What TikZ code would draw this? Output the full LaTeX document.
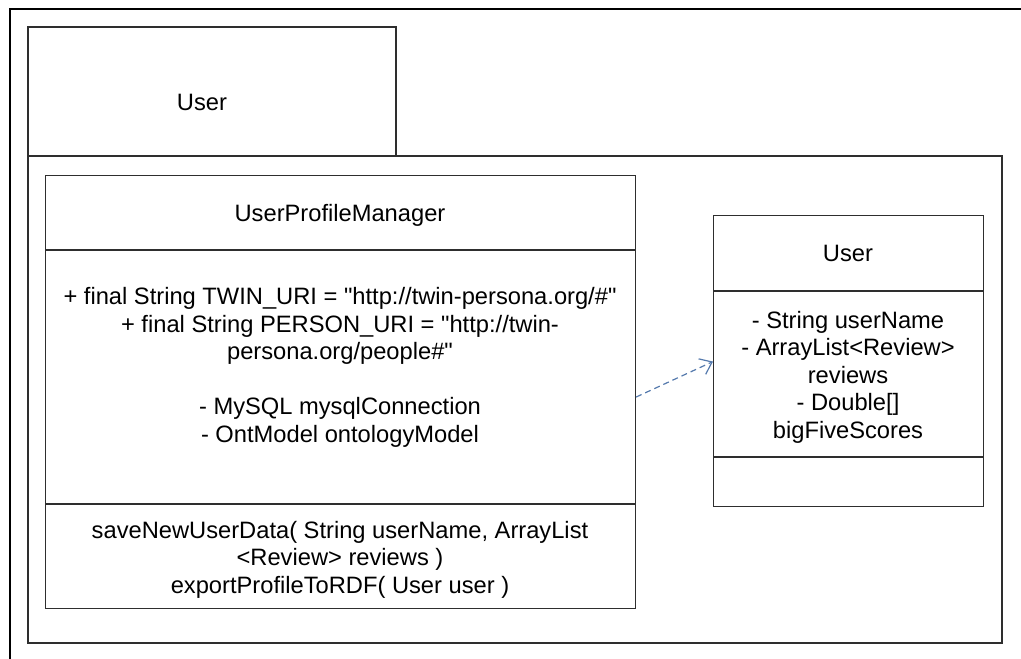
\documentclass[tikz,border=0pt]{standalone}
\usepackage{fontspec}
\setmainfont{Liberation Sans}
\usetikzlibrary{arrows.meta}
\definecolor{edge}{HTML}{2E2E2E}
\definecolor{dep}{HTML}{557AAD}
\newcommand{\dq}{\textquotedbl}
\tikzset{
  frame/.style={draw=edge, line width=1.3pt},
  box/.style={draw=edge, line width=1.1pt},
  txt/.style={inner sep=0pt, align=center, font=\fontsize{23.7}{27.5}\selectfont},
  depend/.style={draw=dep, line width=1.2pt, dash pattern=on 6pt off 4pt,
    -{Straight Barb[length=11pt, width=17pt, line width=1.2pt]}}
}
\begin{document}
\begin{tikzpicture}[x=1pt, y=-1pt]
  \useasboundingbox (0,0) rectangle (1021,659);
  % page frame, open to the right and bottom
  \draw[line width=1.6pt, draw=black] (10,659) -- (10,9) -- (1021,9);

  % package "User": tab and body
  \draw[frame] (28,156) rectangle (396,27);
  \draw[frame] (28,156) rectangle (1002,643);
  \node[txt, anchor=base] (pkgname) at (202,110) {User};

  % class UserProfileManager (multi-line texts are placed by their last baseline)
  \node[box, minimum width=590pt, minimum height=433pt, anchor=north west,
        inner sep=0pt] (upm) at (45,175) {};
  \draw[box] (45,250) -- (635,250);
  \draw[box] (45,504) -- (635,504);
  \node[txt, anchor=base] (upmname) at (340,221) {UserProfileManager};
  \node[txt, anchor=base] (upmattr) at (340,442)
    {+ final String TWIN\_URI = \dq http://twin-persona.org/\#\dq\\
     + final String PERSON\_URI = \dq http://twin-\\
     persona.org/people\#\dq\\[27.5pt]
     - MySQL mysqlConnection\\
     - OntModel ontologyModel};
  \node[txt, anchor=base] (upmops) at (340,593)
    {saveNewUserData( String userName, ArrayList\\
     <Review> reviews )\\
     exportProfileToRDF( User user )};

  % class User
  \node[box, minimum width=270pt, minimum height=291pt, anchor=north west,
        inner sep=0pt] (usr) at (713,215) {};
  \draw[box] (713,291) -- (983,291);
  \draw[box] (713,457) -- (983,457);
  \node[txt, anchor=base] (usrname) at (848,261) {User};
  \node[txt, anchor=base] (usrattr) at (848,438)
    {- String userName\\
     - ArrayList<Review>\\
     reviews\\
     - Double[]\\
     bigFiveScores};

  % dependency from UserProfileManager to User
  \coordinate (depstart) at ([yshift=-5pt]upm.east);
  \coordinate (depend) at ([yshift=-0.5pt]usr.west);
  \draw[depend] (depstart) -- (depend);
\end{tikzpicture}
\end{document}
